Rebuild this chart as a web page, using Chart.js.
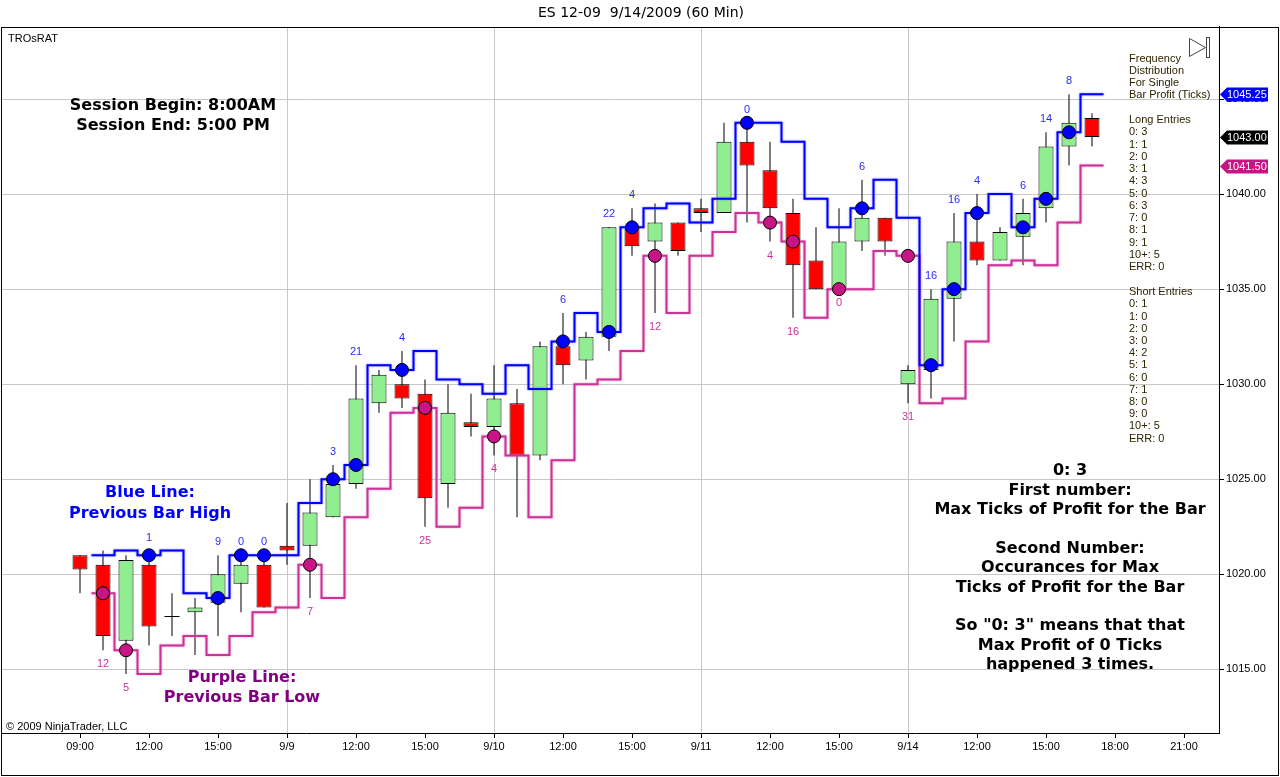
<!DOCTYPE html>
<html>
<head>
<meta charset="utf-8">
<title>ES 12-09 9/14/2009 (60 Min)</title>
<script src="https://cdn.jsdelivr.net/npm/chart.js@4.4.1/dist/chart.umd.min.js"></script>
<style>
  html, body { margin: 0; padding: 0; background: #fff; }
  #wrap { position: relative; width: 1280px; height: 777px; }
</style>
</head>
<body>
<div id="wrap"><canvas id="esChart"></canvas></div>
<script>
// 60 min bars, 8:00-17:00 session, index 0 = the 09:00 bar on the left
const opens = [1021, 1020.5, 1016.5, 1020.5, 1017.75, 1018, 1018.5, 1019.5, 1020.5,
  1021.5, 1021.5, 1023, 1024.75, 1029, 1030, 1029.5, 1024.75, 1028,
  1027.75, 1029, 1026.25, 1032, 1031.25, 1032.5, 1038.25, 1037.5, 1038.5,
  1039.25, 1039, 1042.75, 1041.25, 1039, 1036.5, 1035, 1037.5, 1038.75,
  1030, 1030.75, 1034.5, 1037.5, 1036.5, 1037.75, 1039.25, 1042.5, 1044];
const highs = [1021, 1021.25, 1021, 1021.25, 1019, 1018.75, 1021, 1021, 1021,
  1023.75, 1025, 1025.75, 1031, 1030.75, 1031.75, 1030.25, 1030, 1029.5,
  1031, 1029.75, 1032.25, 1033.75, 1032.75, 1038.25, 1039.25, 1039.5, 1038.5,
  1039.75, 1043.75, 1043.75, 1042.75, 1039.75, 1038.25, 1039.25, 1040.75, 1038.75,
  1031, 1035, 1039, 1040, 1038.25, 1039.75, 1043.25, 1045.25, 1044.25];
const lows = [1019, 1016, 1014.75, 1016.25, 1016.75, 1015.75, 1016.75, 1018, 1018.25,
  1020.5, 1018.75, 1023, 1024.5, 1028.5, 1028.75, 1022.5, 1023.5, 1027.25,
  1026.25, 1023, 1026, 1030, 1030.25, 1031.75, 1036.75, 1033.75, 1036.75,
  1038, 1039, 1038.5, 1037.5, 1033.5, 1035, 1035, 1037, 1036.75,
  1029, 1029.25, 1032.25, 1036.25, 1036.5, 1036.25, 1038.5, 1041.5, 1042.5];
const closes = [1020.25, 1016.75, 1020.75, 1017.25, 1017.75, 1018.25, 1020, 1020.5, 1018.25,
  1021.25, 1023.25, 1024.75, 1029.25, 1030.5, 1029.25, 1024, 1028.5, 1027.75,
  1029.25, 1026.25, 1032, 1031, 1032.5, 1038.25, 1037.25, 1038.5, 1037,
  1039, 1042.75, 1041.5, 1039.25, 1036.25, 1035, 1037.5, 1038.75, 1037.5,
  1030.75, 1034.5, 1037.5, 1036.5, 1038, 1039, 1042.5, 1043.75, 1043];

// max ticks of profit on the entry bar (null = no entry)
const longTicks = [null, null, null, 1, null, null, 9, 0, 0,
  null, null, 3, 21, null, 4, null, null, null,
  null, null, null, 6, null, 22, 4, null, null,
  null, null, 0, null, null, null, null, 6, null,
  null, 16, 16, 4, null, 6, 14, 8, null];
const shortTicks = [null, 12, 5, null, null, null, null, null, null,
  null, 7, null, null, null, null, 25, null, null,
  4, null, null, null, null, null, null, 12, null,
  null, null, null, 4, 16, null, 0, null, null,
  31, null, null, null, null, null, null, null, null];

const tickIndex = [0, 3, 6, 9, 12, 15, 18, 21, 24, 27, 30, 33, 36, 39, 42, 45, 48];
const tickLabels = ['09:00', '12:00', '15:00', '9/9', '12:00', '15:00', '9/10', '12:00', '15:00',
  '9/11', '12:00', '15:00', '9/14', '12:00', '15:00', '18:00', '21:00'];
const dayStarts = [9, 18, 27, 36];
const priceTicks = [1015, 1020, 1025, 1030, 1035, 1040, 1045];
const freqBins = ['0', '1', '2', '3', '4', '5', '6', '7', '8', '9', '10+', 'ERR'];

const GREEN = '#90ee90';
const RED = '#ff0000';
const BLUE = '#0000ff';
const MAGENTA = '#cc3399';
const SANS = '"Liberation Sans", Arial, sans-serif';
const BOLD = 'bold 16px "DejaVu Sans", Verdana, sans-serif';

function freq(ticks) {
    const counts = freqBins.map(() => 0);
    ticks.forEach(t => {
        if (t === null) return;
        counts[t >= 10 ? 10 : t]++;
    });
    return counts;
}

const bodies = opens.map((o, i) => ({ x: i, y: [o, closes[i]] }));
const wicks = lows.map((l, i) => ({ x: i, y: [l, highs[i]] }));
// doji bars are drawn as a plain black dash
const bodyColors = opens.map((o, i) => closes[i] > o ? GREEN : closes[i] < o ? RED : '#000');
const bodyBorders = opens.map((o, i) => closes[i] === o ? 0 : 1);

// previous bar high / low as steps centred on each bar
const prevHighLine = highs.slice(0, -1).map((h, i) => ({ x: i + 0.5, y: h }));
prevHighLine.push({ x: highs.length - 0.5, y: highs[highs.length - 2] });
const prevLowLine = lows.slice(0, -1).map((l, i) => ({ x: i + 0.5, y: l }));
prevLowLine.push({ x: lows.length - 0.5, y: lows[lows.length - 2] });

const longDots = longTicks.map((t, i) => t === null ? null : { x: i, y: highs[i - 1] }).filter(Boolean);
const shortDots = shortTicks.map((t, i) => t === null ? null : { x: i, y: lows[i - 1] }).filter(Boolean);

function drawLines(ctx, lines, cx, y0, dy, font, color) {
    ctx.font = font;
    ctx.fillStyle = color;
    ctx.textAlign = 'center';
    ctx.textBaseline = 'middle';
    lines.forEach((s, k) => { if (s) ctx.fillText(s, cx, y0 + dy * k); });
}

const glow = {
    id: 'glow',
    beforeDatasetDraw(chart, args) {
        const ds = chart.data.datasets[args.index];
        if (!ds.glow) return;
        chart.ctx.save();
        chart.ctx.shadowColor = ds.glow;
        chart.ctx.shadowBlur = 2;
    },
    afterDatasetDraw(chart, args) {
        if (chart.data.datasets[args.index].glow) chart.ctx.restore();
    }
};

const overlay = {
    id: 'overlay',
    afterDraw(chart) {
        const { ctx, scales: { x, y } } = chart;
        ctx.save();

        // entry profit labels
        ctx.font = '11px ' + SANS;
        ctx.textAlign = 'center';
        ctx.textBaseline = 'middle';
        longTicks.forEach((t, i) => {
            if (t === null) return;
            ctx.fillStyle = '#2a2aff';
            ctx.fillText(String(t), x.getPixelForValue(i), y.getPixelForValue(highs[i]) - 13);
        });
        shortTicks.forEach((t, i) => {
            if (t === null) return;
            ctx.fillStyle = MAGENTA;
            ctx.fillText(String(t), x.getPixelForValue(i), y.getPixelForValue(lows[i]) + 14);
        });

        // notes on the chart
        drawLines(ctx, ['Session Begin: 8:00AM', 'Session End: 5:00 PM'], 173, 106, 20, BOLD, '#000');
        drawLines(ctx, ['Blue Line:', 'Previous Bar High'], 150, 493, 21, BOLD, BLUE);
        drawLines(ctx, ['Purple Line:', 'Previous Bar Low'], 242, 678, 20, BOLD, '#800080');
        drawLines(ctx, ['0: 3', 'First number:', 'Max Ticks of Profit for the Bar', '',
            'Second Number:', 'Occurances for Max', 'Ticks of Profit for the Bar', '',
            'So "0: 3" means that that', 'Max Profit of 0 Ticks', 'happened 3 times.'],
            1070, 471, 19.4, BOLD, '#000');

        // frequency panel
        ctx.font = '11px ' + SANS;
        ctx.textAlign = 'left';
        ctx.fillStyle = '#2e2400';
        const px = 1129;
        ['Frequency', 'Distribution', 'For Single', 'Bar Profit (Ticks)']
            .forEach((s, k) => ctx.fillText(s, px, 59 + 12 * k));
        const longFreq = freq(longTicks);
        const shortFreq = freq(shortTicks);
        ctx.fillText('Long Entries', px, 120);
        freqBins.forEach((b, k) => ctx.fillText(b + ': ' + longFreq[k], px, 132.3 + 12.25 * k));
        ctx.fillText('Short Entries', px, 292.3);
        freqBins.forEach((b, k) => ctx.fillText(b + ': ' + shortFreq[k], px, 304.3 + 12.2 * k));

        // small labels
        ctx.fillStyle = '#000';
        ctx.fillText('TROsRAT', 8, 39);
        ctx.fillText('\u00a9 2009 NinjaTrader, LLC', 6, 727);

        // price markers on the axis
        const marker = (value, color) => {
            const yy = Math.round(y.getPixelForValue(value)) + 0.5;
            const x0 = y.left + 1;
            ctx.beginPath();
            ctx.moveTo(x0, yy);
            ctx.lineTo(x0 + 7, yy - 7);
            ctx.lineTo(x0 + 48, yy - 7);
            ctx.lineTo(x0 + 48, yy + 7);
            ctx.lineTo(x0 + 7, yy + 7);
            ctx.closePath();
            ctx.fillStyle = color;
            ctx.fill();
            ctx.fillStyle = '#fff';
            ctx.font = '11px ' + SANS;
            ctx.textAlign = 'left';
            ctx.fillText(value.toFixed(2), x0 + 7, yy);
        };
        marker(highs[highs.length - 2], BLUE);
        marker(closes[closes.length - 1], '#000');
        marker(lows[lows.length - 2], '#c71585');

        // scroll-to-end glyph
        ctx.strokeStyle = '#444';
        ctx.lineWidth = 1;
        ctx.beginPath();
        ctx.moveTo(1189.5, 38.5);
        ctx.lineTo(1205.5, 47.5);
        ctx.lineTo(1189.5, 56.5);
        ctx.closePath();
        ctx.stroke();
        ctx.strokeRect(1206.5, 37.5, 3, 20);

        // outer frame
        ctx.strokeStyle = '#000';
        ctx.strokeRect(1.5, 27.5, 1277, 748);
        ctx.restore();
    }
};

new Chart(document.getElementById('esChart'), {
    type: 'bar',
    data: {
        datasets: [
            {
                type: 'line',
                data: longDots,
                showLine: false,
                pointRadius: 6.5,
                pointBackgroundColor: BLUE,
                pointBorderColor: '#000',
                pointBorderWidth: 1,
                order: 1
            },
            {
                type: 'line',
                data: shortDots,
                showLine: false,
                pointRadius: 6.5,
                pointBackgroundColor: '#c71585',
                pointBorderColor: '#000',
                pointBorderWidth: 1,
                order: 1
            },
            {
                type: 'line',
                data: prevHighLine,
                stepped: 'before',
                borderColor: BLUE,
                borderWidth: 2,
                pointRadius: 0,
                fill: false,
                glow: 'rgba(90,90,255,0.8)',
                order: 2
            },
            {
                type: 'line',
                data: prevLowLine,
                stepped: 'before',
                borderColor: MAGENTA,
                borderWidth: 2,
                pointRadius: 0,
                fill: false,
                glow: 'rgba(225,110,180,0.8)',
                order: 2
            },
            {
                data: bodies,
                backgroundColor: bodyColors,
                borderColor: '#000',
                borderWidth: bodyBorders,
                borderSkipped: false,
                barThickness: 15,
                minBarLength: 1,
                inflateAmount: 0,
                grouped: false,
                order: 3
            },
            {
                data: wicks,
                backgroundColor: '#000',
                borderWidth: 0,
                barThickness: 1,
                inflateAmount: 0,
                grouped: false,
                order: 4
            }
        ]
    },
    options: {
        responsive: true,
        maintainAspectRatio: false,
        animation: false,
        layout: { autoPadding: false, padding: { left: 2, right: 0, top: 0, bottom: 0 } },
        plugins: {
            legend: { display: false },
            tooltip: { enabled: false },
            title: {
                display: true,
                text: 'ES 12-09  9/14/2009 (60 Min)',
                color: '#000',
                font: { family: '"DejaVu Sans", Verdana, sans-serif', size: 14, weight: 'normal' },
                padding: { top: 5, bottom: 5 }
            }
        },
        scales: {
            x: {
                type: 'linear',
                min: -78 / 23,
                max: 1139 / 23,
                offset: false,
                afterBuildTicks: s => { s.ticks = tickIndex.map(v => ({ value: v })); },
                afterFit: s => {
                    s.height = 44;
                    s.paddingLeft = 0;
                    s.paddingRight = 0;
                },
                ticks: {
                    autoSkip: false,
                    maxRotation: 0,
                    color: '#000',
                    padding: 2,
                    font: { family: SANS, size: 11 },
                    callback: (v, i) => tickLabels[i]
                },
                grid: {
                    offset: false,
                    color: c => dayStarts.includes(c.tick && c.tick.value) ? '#c8c8c8' : 'rgba(0,0,0,0)',
                    tickColor: '#000',
                    tickLength: 5
                },
                border: { color: '#000' }
            },
            y: {
                position: 'right',
                min: 1011.65,
                max: 1048.8,
                afterBuildTicks: s => { s.ticks = priceTicks.map(v => ({ value: v })); },
                afterFit: s => {
                    s.width = 61;
                    s.paddingTop = 0;
                    s.paddingBottom = 0;
                },
                ticks: {
                    color: '#000',
                    padding: 2,
                    font: { family: SANS, size: 11 },
                    callback: v => v.toFixed(2)
                },
                grid: {
                    color: '#c8c8c8',
                    tickColor: '#000',
                    tickLength: 5
                },
                border: { color: '#000' }
            }
        }
    },
    plugins: [glow, overlay]
});
</script>
</body>
</html>
